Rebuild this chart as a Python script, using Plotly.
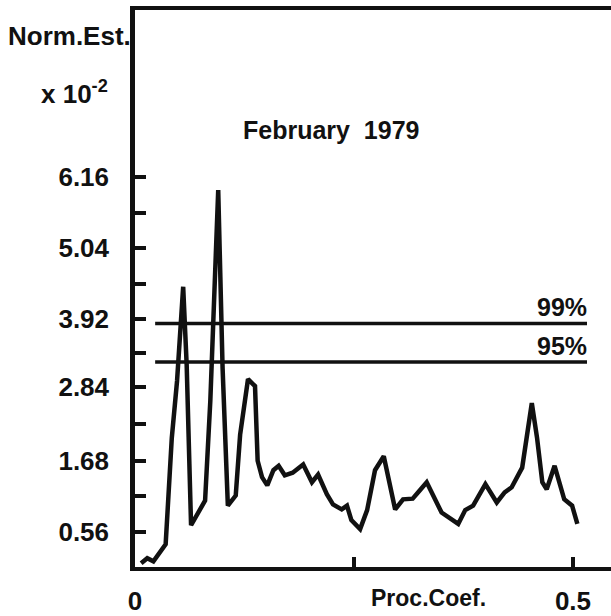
import plotly.graph_objects as go

# Spectrum (periodogram) values
freq = [0.007, 0.014, 0.021, 0.035, 0.042, 0.048, 0.055, 0.059, 0.064, 0.076,
        0.080, 0.086, 0.095, 0.100, 0.106, 0.115, 0.120, 0.129, 0.137, 0.140,
        0.145, 0.151, 0.158, 0.164, 0.171, 0.180, 0.192, 0.202, 0.209, 0.219,
        0.226, 0.236, 0.242, 0.247, 0.257, 0.265, 0.274, 0.284, 0.291, 0.297,
        0.306, 0.317, 0.325, 0.333, 0.350, 0.369, 0.377, 0.386, 0.400, 0.413,
        0.422, 0.430, 0.442, 0.447, 0.453, 0.459, 0.465, 0.470, 0.479, 0.490,
        0.499, 0.505]
norm_est = [0.06, 0.14, 0.09, 0.36, 2.04, 2.94, 4.43, 3.19, 0.66, 0.94,
            1.05, 2.63, 5.96, 3.14, 0.97, 1.13, 2.09, 2.97, 2.86, 1.68,
            1.42, 1.29, 1.53, 1.60, 1.45, 1.49, 1.62, 1.34, 1.46, 1.15,
            0.99, 0.91, 0.97, 0.74, 0.60, 0.90, 1.53, 1.75, 1.31, 0.91,
            1.07, 1.08, 1.21, 1.34, 0.86, 0.68, 0.90, 0.97, 1.31, 1.02,
            1.18, 1.26, 1.57, 2.00, 2.59, 2.04, 1.34, 1.23, 1.60, 1.07,
            0.97, 0.68]

# Significance levels
sig_labels = ["99%", "95%"]
sig_levels = [3.85, 3.24]
sig_x = [0.023, 0.516]

# Axis ticks
y_tick_values = [0.56, 1.68, 2.84, 3.92, 5.04, 6.16]
y_tick_labels = ["0.56", "1.68", "2.84", "3.92", "5.04", "6.16"]
y_minor_values = [1.12, 2.26, 3.38, 4.48, 5.60]
x_tick_values = [0, 0.5]
x_tick_labels = ["0", "0.5"]
x_minor_values = [0.25]

FONT = "Liberation Sans, Arial, sans-serif"
BLACK = "#111111"

fig = go.Figure()

for lvl in sig_levels:
    fig.add_trace(go.Scatter(x=sig_x, y=[lvl, lvl], mode="lines",
                             line=dict(color=BLACK, width=3.5),
                             hoverinfo="skip", showlegend=False))

fig.add_trace(go.Scatter(x=freq, y=norm_est, mode="lines",
                         line=dict(color=BLACK, width=4.5),
                         showlegend=False))

for lab, lvl in zip(sig_labels, sig_levels):
    fig.add_annotation(x=sig_x[1], y=lvl, xref="x", yref="y", text=lab,
                       showarrow=False, xanchor="right", yanchor="bottom",
                       yshift=0, xshift=2,
                       font=dict(family=FONT, size=25, color=BLACK, weight="bold"))

fig.update_layout(
    width=611, height=616,
    margin=dict(l=135, r=0, t=10, b=46),
    paper_bgcolor="white", plot_bgcolor="white",
    font=dict(family=FONT, size=25, color=BLACK),
    xaxis=dict(range=[0, 0.5434], showgrid=False, zeroline=False,
               showline=True, linecolor=BLACK, linewidth=3.5, mirror=True,
               ticks="inside", ticklen=10, tickwidth=3.5, tickcolor=BLACK,
               tickvals=x_tick_values, ticktext=x_tick_labels,
               minor=dict(tickvals=x_minor_values, ticks="inside", ticklen=10,
                          tickwidth=3.5, tickcolor=BLACK, showgrid=False),
               tickfont=dict(family=FONT, size=26, color=BLACK, weight="bold"),
               ticklabelstandoff=8),
    yaxis=dict(range=[0, 8.805], showgrid=False, zeroline=False,
               showline=True, linecolor=BLACK, linewidth=4.5, mirror=False,
               ticks="inside", ticklen=11, tickwidth=3.5, tickcolor=BLACK,
               tickvals=y_tick_values, ticktext=y_tick_labels,
               minor=dict(tickvals=y_minor_values, ticks="inside", ticklen=11,
                          tickwidth=3.5, tickcolor=BLACK, showgrid=False),
               tickfont=dict(family=FONT, size=26, color=BLACK, weight="bold"),
               ticklabelstandoff=16),
)

fig.add_annotation(x=-0.27, y=0.9536, xref="paper", yref="paper",
                   text="Norm.Est.", showarrow=False, xanchor="left", yanchor="middle",
                   font=dict(family=FONT, size=26, color=BLACK, weight="bold"))
fig.add_annotation(x=-0.2016, y=0.851, xref="paper", yref="paper",
                   text="x 10<sup>-2</sup>", showarrow=False, xanchor="left", yanchor="middle",
                   font=dict(family=FONT, size=26, color=BLACK, weight="bold"))
fig.add_annotation(x=0.4118, y=0.784, xref="paper", yref="paper",
                   text="February  1979", showarrow=False, xanchor="center", yanchor="middle",
                   font=dict(family=FONT, size=25, color=BLACK, weight="bold"))
fig.add_annotation(x=0.6176, y=-0.0554, xref="paper", yref="paper",
                   text="Proc.Coef.", showarrow=False, xanchor="center", yanchor="middle",
                   font=dict(family=FONT, size=23, color=BLACK, weight="bold"))

fig.write_html("out.html")
